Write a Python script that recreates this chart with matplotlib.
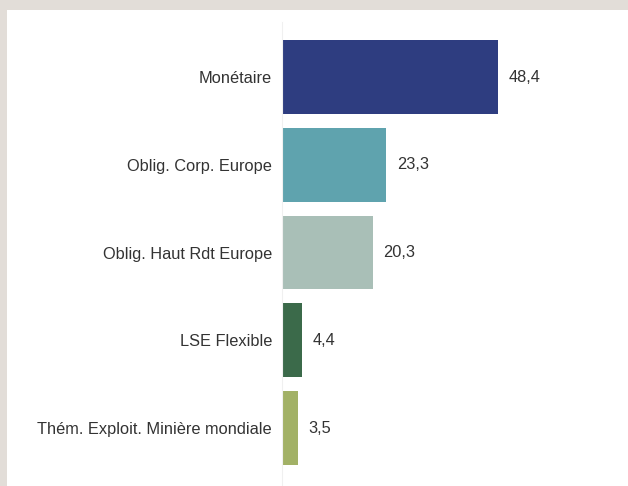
import matplotlib
matplotlib.use("Agg")
import matplotlib.pyplot as plt
from matplotlib.patches import Rectangle

categories = ["Monétaire", "Oblig. Corp. Europe", "Oblig. Haut Rdt Europe", "LSE Flexible", "Thém. Exploit. Minière mondiale"]
values = [48.4, 23.3, 20.3, 4.4, 3.5]
colors = ["#2e3d80", "#5fa3ae", "#a9bfb7", "#3b6a4a", "#a2b166"]

plt.rcParams['font.family'] = ['Liberation Sans', 'DejaVu Sans']

W, H = 628, 486
fig = plt.figure(figsize=(W/100, H/100), dpi=100, facecolor="#e2ddd8")
fig.patches.append(Rectangle((7/W, 0), 1 - 7/W, (H - 10)/H, transform=fig.transFigure,
                             facecolor="white", edgecolor="none", zorder=-10))

ax_left, ax_right = 282, 620
ax_top, ax_bottom = 22, 485
ax = fig.add_axes([ax_left/W, 1 - ax_bottom/H, (ax_right-ax_left)/W, (ax_bottom-ax_top)/H])
ax.set_zorder(5)
ax.set_facecolor("none")
px_per_unit = 4.46
ax.set_xlim(0, (ax_right-ax_left)/px_per_unit)
y = list(range(len(categories)))
ax.barh(y, values, height=0.84, color=colors, edgecolor="none")
ax.set_ylim(4.65, -0.63)
ax.set_yticks(y)
ax.set_yticklabels(categories, fontsize=11.8, color="#333333")
ax.tick_params(axis="y", length=0, pad=7.2)
ax.set_xticks([])
for s in ["top", "right", "bottom"]:
    ax.spines[s].set_visible(False)
ax.spines["left"].set_color("#f0f0f0")
ax.spines["left"].set_linewidth(0.8)
for yi, v in zip(y, values):
    ax.text(v + 11/px_per_unit, yi, f"{v:.1f}".replace(".", ","), va="center", ha="left",
            fontsize=11.8, color="#333333")

fig.savefig("out.png", dpi=100, facecolor=fig.get_facecolor())
